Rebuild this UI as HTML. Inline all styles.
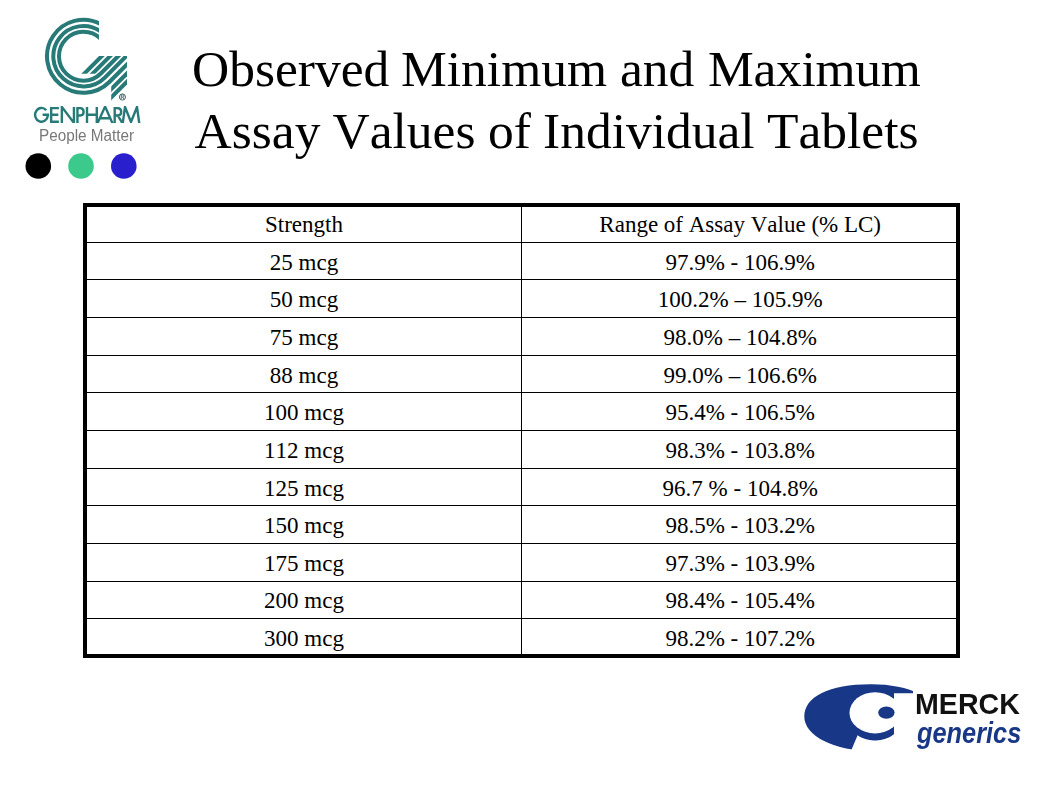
<!DOCTYPE html>
<html><head><meta charset="utf-8">
<style>
html,body{margin:0;padding:0;background:#fff;}
body{width:1037px;height:787px;position:relative;overflow:hidden;}
.t{position:absolute;width:400px;text-align:center;line-height:0;white-space:nowrap;font-family:"Liberation Serif",serif;font-size:23px;font-kerning:none;color:#000;}
.w{position:absolute;line-height:0;white-space:nowrap;font-family:"Liberation Serif",serif;font-size:51.5px;font-kerning:none;color:#000;}
svg{position:absolute;left:0;top:0;}
.pm{position:absolute;left:38.6px;top:136.20px;line-height:0;white-space:nowrap;font-family:"Liberation Sans",sans-serif;font-size:16px;color:#787878;transform-origin:0 0;transform:scaleX(0.955);}
.merck{position:absolute;left:915px;top:704.15px;line-height:0;white-space:nowrap;font-family:"Liberation Sans",sans-serif;font-weight:bold;font-size:29.5px;color:#111;transform-origin:0 0;transform:scaleX(0.97);}
.gen{position:absolute;left:917px;top:732.5px;line-height:0;white-space:nowrap;font-family:"Liberation Sans",sans-serif;font-weight:bold;font-style:italic;font-size:30px;color:#183787;transform-origin:0 0;transform:scaleX(0.845);}
</style></head><body>
<svg width="1037" height="787" viewBox="0 0 1037 787">
  <rect x="83" y="203" width="877" height="4" fill="#000"/>
  <rect x="83" y="654" width="877" height="4" fill="#000"/>
  <rect x="83" y="203" width="4" height="455" fill="#000"/>
  <rect x="956" y="203" width="4" height="455" fill="#000"/>
  <rect x="521" y="207" width="1" height="447" fill="#000"/>
  <rect x="87" y="242" width="869" height="1" fill="#000"/>
<rect x="87" y="279" width="869" height="1" fill="#000"/>
<rect x="87" y="317" width="869" height="1" fill="#000"/>
<rect x="87" y="355" width="869" height="1" fill="#000"/>
<rect x="87" y="392" width="869" height="1" fill="#000"/>
<rect x="87" y="430" width="869" height="1" fill="#000"/>
<rect x="87" y="468" width="869" height="1" fill="#000"/>
<rect x="87" y="505" width="869" height="1" fill="#000"/>
<rect x="87" y="543" width="869" height="1" fill="#000"/>
<rect x="87" y="581" width="869" height="1" fill="#000"/>
<rect x="87" y="618" width="869" height="1" fill="#000"/>
  
  <defs>
    <clipPath id="gArc"><polygon points="0,0 99,0 99,56 127,56 127,120 0,120"/></clipPath>
    <clipPath id="gShort"><rect x="60" y="56" width="67" height="17.7"/></clipPath>
    <clipPath id="gLow"><rect x="111.2" y="56" width="15.8" height="60"/></clipPath>
  </defs>
  <g fill="none" stroke="#277a77" clip-path="url(#gArc)"><path d="M100.50,23.90 A36.5,36.5 0 1 0 109.31,82.01 L149.31,42.01" stroke-width="4.0"/>
<path d="M100.50,31.24 A30.2,30.2 0 1 0 104.85,77.55 L144.85,37.55" stroke-width="4.0"/>
<path d="M100.50,38.56 A24.5,24.5 0 1 0 100.82,73.52 L140.82,33.52" stroke-width="4.0"/></g>
  <g stroke="#277a77" clip-path="url(#gShort)"><line x1="27.900000000000006" y1="130" x2="157.9" y2="0" stroke-width="4.0"/>
<line x1="36.19999999999999" y1="130" x2="166.2" y2="0" stroke-width="4.0"/></g>
  <g stroke="#277a77" clip-path="url(#gLow)"><line x1="70.30000000000001" y1="130" x2="200.3" y2="0" stroke-width="4.0"/>
<line x1="78.69999999999999" y1="130" x2="208.7" y2="0" stroke-width="4.0"/></g>
  <circle cx="122.4" cy="97" r="3.1" fill="none" stroke="#2f5956" stroke-width="0.9"/>
  <path d="M121.2,99.2 V94.9 H122.8 Q124,94.9 124,96 Q124,97.1 122.8,97.1 H121.2 M122.6,97.1 L124,99.2" fill="none" stroke="#2f5956" stroke-width="0.8"/>

  <clipPath id="gpw"><rect x="30" y="106.1" width="115" height="17"/></clipPath><path clip-path="url(#gpw)" d="M46.26,110.18 A6.4,6.9 0 1 0 47.90,115.40 M49.10,114.80 H42.6 M51.15,106.9 V122.9 M50,108.1 H58.9 M50,114.75 H58.3 M50,121.7 H58.9 M61.85,122.9 V106.9 L73.95,122.9 V106.9 M77.45,122.9 V108.1 H80.2 Q83.6,108.1 83.6,111.8 Q83.6,115.5 80.2,115.5 H77.45 M87,106.9 V122.9 M96.8,106.9 V122.9 M87,114.75 H96.8 M97.4,123.5 L105.1,106.6 L112.6,123.5 M100.6,118.3 H109.8 M114.7,122.9 V108.1 H117.6 Q121.2,108.1 121.2,111.8 Q121.2,115.5 117.6,115.5 H114.7 M117.8,115.5 L122.2,122.9 M122.7,123.5 L125.0,107.0 L131,122.0 L137.0,107.0 L139.3,123.5" fill="none" stroke="#277a77" stroke-width="2.4" stroke-linejoin="miter" stroke-miterlimit="4"/>
  
  <defs>
    <mask id="mm" maskUnits="userSpaceOnUse" x="790" y="670" width="160" height="100">
      <rect x="790" y="670" width="160" height="100" fill="#000"/>
      <path d="M804.3,716.7 C804.3,696.6 829.3,684.3 870,684.3 L872,684.3 A67.7,32.4 0 0 1 939.7,716.7 A67.7,34.5 0 0 1 872,751.2 A67.7,34.5 0 0 1 804.3,716.7 Z" fill="#fff"/>
      <ellipse cx="875" cy="712.8" rx="25.5" ry="20.6" fill="#000"/>
      <polygon points="894,693.3 913,693.3 913,670 950,670 950,770 894,770" fill="#000"/>
      <polygon points="851.40,752.00 851.40,750.10 857.60,735.36 859.43,736.48 861.34,737.46 863.32,738.32 865.37,739.03 867.47,739.61 869.60,740.05 871.77,740.34 873.95,740.48 876.14,740.48 878.33,740.33 880.49,740.03 882.63,739.59 884.72,739.00 886.77,738.28 888.75,737.42 890.66,736.43 892.48,735.31 894.21,734.08 895.84,732.73 897.36,731.27 898.76,729.71 900.03,728.07 901.17,726.34 902.17,724.55 903.02,722.69 903.73,720.77 904.28,718.82 904.68,716.83 904.92,714.82 905.00,712.80 950.00,712.80 950.00,770.00 851.40,770.00" fill="#000"/>
    </mask>
  </defs>
  <rect x="790" y="670" width="160" height="100" fill="#183787" mask="url(#mm)"/>
  <ellipse cx="886.4" cy="712.6" rx="8.2" ry="6.1" fill="#183787"/>

  <circle cx="38.3" cy="166" r="12.8" fill="#000"/>
  <circle cx="81" cy="166" r="12.8" fill="#3cc98c"/>
  <circle cx="123.8" cy="166" r="12.8" fill="#2a1fcc"/>
</svg>
<div class="w" style="left:192px;top:68.62px">Observed</div>
<div class="w" style="left:401px;top:68.62px">Minimum</div>
<div class="w" style="left:620px;top:68.62px">and</div>
<div class="w" style="left:708px;top:68.62px;letter-spacing:-0.3px">Maximum</div>
<div class="w" style="left:194.5px;top:130.62px">Assay</div>
<div class="w" style="left:332.5px;top:130.62px">Values</div>
<div class="w" style="left:488px;top:130.62px">of</div>
<div class="w" style="left:543px;top:130.62px">Individual</div>
<div class="w" style="left:767px;top:130.62px">Tablets</div>
<div class="t" style="left:104px;top:225.24px">Strength</div>
<div class="t" style="left:540.2px;top:225.24px">Range of Assay Value (% LC)</div>
<div class="t" style="left:104px;top:263.24px">25 mcg</div>
<div class="t" style="left:540.2px;top:263.24px">97.9% - 106.9%</div>
<div class="t" style="left:104px;top:300.24px">50 mcg</div>
<div class="t" style="left:540.2px;top:300.24px">100.2% – 105.9%</div>
<div class="t" style="left:104px;top:338.24px">75 mcg</div>
<div class="t" style="left:540.2px;top:338.24px">98.0% – 104.8%</div>
<div class="t" style="left:104px;top:376.24px">88 mcg</div>
<div class="t" style="left:540.2px;top:376.24px">99.0% – 106.6%</div>
<div class="t" style="left:104px;top:413.24px">100 mcg</div>
<div class="t" style="left:540.2px;top:413.24px">95.4% - 106.5%</div>
<div class="t" style="left:104px;top:451.24px">112 mcg</div>
<div class="t" style="left:540.2px;top:451.24px">98.3% - 103.8%</div>
<div class="t" style="left:104px;top:489.24px">125 mcg</div>
<div class="t" style="left:540.2px;top:489.24px">96.7 % - 104.8%</div>
<div class="t" style="left:104px;top:526.24px">150 mcg</div>
<div class="t" style="left:540.2px;top:526.24px">98.5% - 103.2%</div>
<div class="t" style="left:104px;top:564.24px">175 mcg</div>
<div class="t" style="left:540.2px;top:564.24px">97.3% - 103.9%</div>
<div class="t" style="left:104px;top:601.24px">200 mcg</div>
<div class="t" style="left:540.2px;top:601.24px">98.4% - 105.4%</div>
<div class="t" style="left:104px;top:639.24px">300 mcg</div>
<div class="t" style="left:540.2px;top:639.24px">98.2% - 107.2%</div>
<div class="pm">People Matter</div>
<div class="merck">MERCK</div>
<div class="gen">generics</div>
</body></html>
